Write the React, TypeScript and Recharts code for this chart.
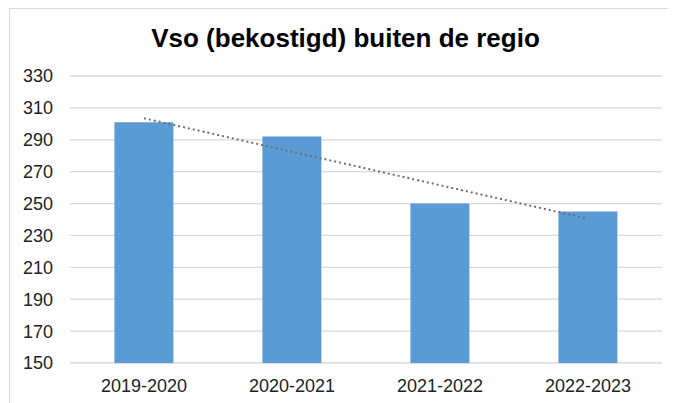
import React from 'react';
import { ComposedChart, Bar, Line, XAxis, YAxis, CartesianGrid } from 'recharts';

const categories = ['2019-2020', '2020-2021', '2021-2022', '2022-2023'];
const values = [301, 292, 250, 245];
const yTicks = [150, 170, 190, 210, 230, 250, 270, 290, 310, 330];
const title = 'Vso (bekostigd) buiten de regio';

// Linear (least-squares) trendline derived from the bar values, like Excel's trendline
const n = values.length;
const meanX = (n - 1) / 2;
const meanY = values.reduce((a, b) => a + b, 0) / n;
const slope =
  values.reduce((s, v, i) => s + (i - meanX) * (v - meanY), 0) /
  values.reduce((s, _v, i) => s + (i - meanX) * (i - meanX), 0);
const trend = values.map((_v, i) => meanY + slope * (i - meanX));

const data = categories.map((c, i) => ({ name: c, value: values[i], trend: trend[i] }));

const FONT = '"Liberation Sans", Arial, sans-serif';

export default function App() {
  return (
    <div style={{ position: 'relative', width: 668, height: 395, overflow: 'hidden', background: '#fff' }}>
      <div
        style={{
          position: 'absolute',
          left: 1,
          top: 0,
          width: 800,
          height: 600,
          borderTop: '1px solid #d9d9d9',
          borderLeft: '1px solid #d9d9d9',
        }}
      />
      <svg style={{ position: 'absolute', left: 0, top: 0 }} width={668} height={60}>
        <text x={337.5} y={39} textAnchor="middle" fontFamily={FONT} fontWeight="bold" fontSize={26} fill="#000">
          {title}
        </text>
      </svg>
      <div style={{ position: 'absolute', left: 0, top: 0 }}>
        <ComposedChart
          width={668}
          height={395}
          data={data}
          margin={{ top: 68, right: 14, bottom: 10, left: 12 }}
          barCategoryGap="30%"
        >
          <CartesianGrid horizontal vertical={false} stroke="#d9d9d9" strokeWidth={1.3} />
          <XAxis
            dataKey="name"
            axisLine={false}
            tickLine={false}
            height={30}
            tickMargin={10}
            tick={{ fontFamily: FONT, fontSize: 18, fill: '#222' }}
            interval={0}
          />
          <YAxis
            domain={[150, 330]}
            ticks={yTicks}
            axisLine={false}
            tickLine={false}
            width={50}
            tickMargin={11}
            interval={0}
            allowDataOverflow
            tick={{ fontFamily: FONT, fontSize: 18, fill: '#222' }}
          />
          <Bar dataKey="value" fill="#5b9bd5" isAnimationActive={false} />
          <Line
            dataKey="trend"
            type="linear"
            stroke="#6f6f6f"
            strokeWidth={2}
            strokeDasharray="2 3"
            dot={false}
            activeDot={false}
            isAnimationActive={false}
          />
        </ComposedChart>
      </div>
    </div>
  );
}
